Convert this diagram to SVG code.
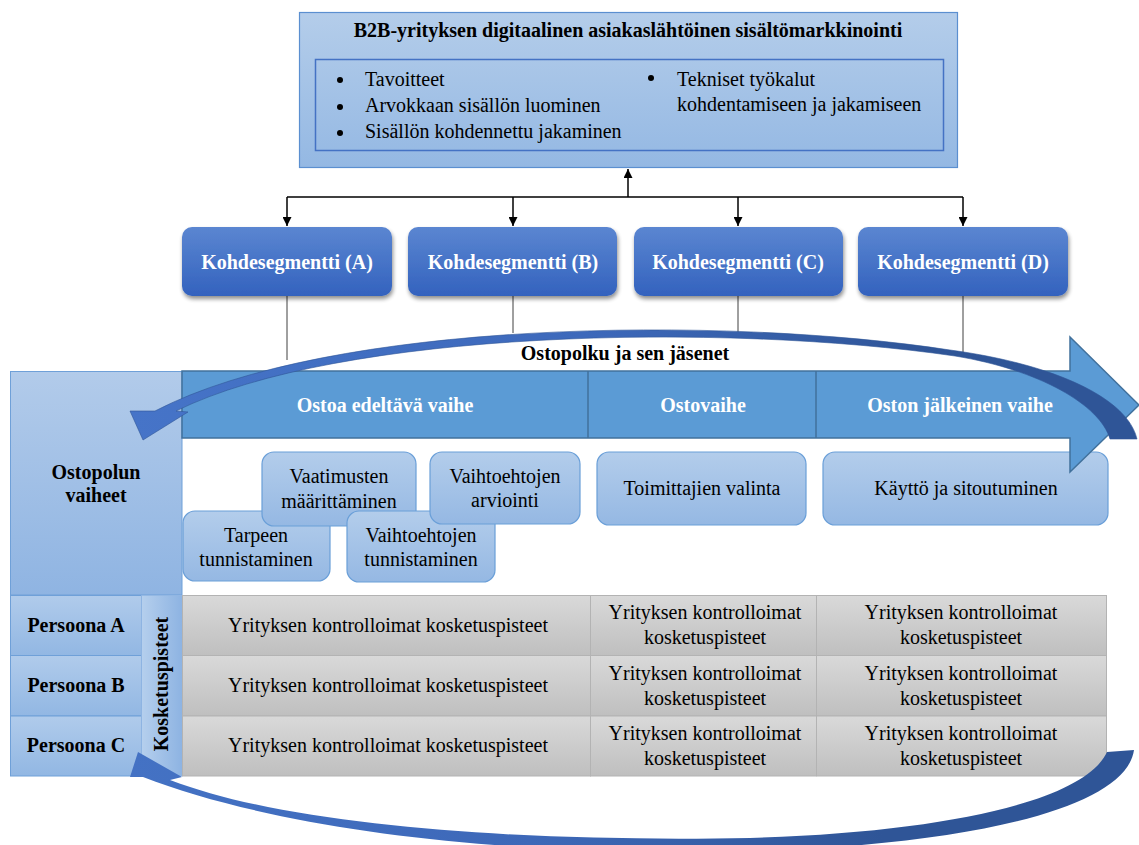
<svg xmlns="http://www.w3.org/2000/svg" width="1139" height="845" viewBox="0 0 1139 845">
  <style>
    text { fill: #000; font-family: "Liberation Serif", "Times New Roman", serif; font-size: 20px; }
    .b { font-weight: bold; }
    .c { text-anchor: middle; }
    .w { fill: #fff; }
    .conn { stroke: #000; stroke-width: 1.5; fill: none; }
    .drop { stroke: #404040; stroke-width: 1; fill: none; }
    .sub { fill: url(#subFill); stroke: #6a9fd8; stroke-width: 1.2; }
    .seg { fill: url(#segFill); filter: url(#shadow); }
    .grey { fill: url(#greyFill); stroke: #b3b3b3; stroke-width: 1; }
    .pers { fill: url(#persFill); stroke: #6fa0d8; stroke-width: 1; }
  </style>
  <defs>
    <linearGradient id="topFill" x1="0" y1="0" x2="0" y2="1">
      <stop offset="0" stop-color="#b4cdea"/>
      <stop offset="1" stop-color="#94b8e3"/>
    </linearGradient>
    <linearGradient id="segFill" x1="0" y1="0" x2="0" y2="1">
      <stop offset="0" stop-color="#5b86d1"/>
      <stop offset="1" stop-color="#3362be"/>
    </linearGradient>
    <linearGradient id="subFill" x1="0" y1="0" x2="0" y2="1">
      <stop offset="0" stop-color="#b3cdeb"/>
      <stop offset="1" stop-color="#95b8e3"/>
    </linearGradient>
    <linearGradient id="panelFill" x1="0" y1="0" x2="0" y2="1">
      <stop offset="0" stop-color="#b2cbea"/>
      <stop offset="1" stop-color="#8fb4e2"/>
    </linearGradient>
    <linearGradient id="persFill" x1="0" y1="0" x2="0" y2="1">
      <stop offset="0" stop-color="#b0cbeb"/>
      <stop offset="1" stop-color="#92b7e3"/>
    </linearGradient>
    <linearGradient id="colFill" x1="0" y1="0" x2="1" y2="0">
      <stop offset="0" stop-color="#b5cfed"/>
      <stop offset="1" stop-color="#8db3e2"/>
    </linearGradient>
    <linearGradient id="greyFill" x1="0" y1="0" x2="0" y2="1">
      <stop offset="0" stop-color="#d9d9d9"/>
      <stop offset="1" stop-color="#bfbfbf"/>
    </linearGradient>
    <linearGradient id="curveTop" gradientUnits="userSpaceOnUse" x1="130" y1="0" x2="1137" y2="0">
      <stop offset="0" stop-color="#4674c8"/>
      <stop offset="0.45" stop-color="#3d69bb"/>
      <stop offset="0.8" stop-color="#2f5597"/>
      <stop offset="1" stop-color="#2f5597"/>
    </linearGradient>
    <linearGradient id="curveBottom" gradientUnits="userSpaceOnUse" x1="130" y1="0" x2="1133" y2="0">
      <stop offset="0" stop-color="#4472c4"/>
      <stop offset="0.4" stop-color="#3d68b8"/>
      <stop offset="0.75" stop-color="#2f5597"/>
      <stop offset="1" stop-color="#2f5597"/>
    </linearGradient>
    <filter id="shadow" x="-10%" y="-20%" width="125%" height="150%">
      <feGaussianBlur in="SourceAlpha" stdDeviation="2"/>
      <feOffset dx="1" dy="3" result="o"/>
      <feComponentTransfer><feFuncA type="linear" slope="0.45"/></feComponentTransfer>
      <feMerge><feMergeNode/><feMergeNode in="SourceGraphic"/></feMerge>
    </filter>
    <marker id="arr" viewBox="0 0 10 10" refX="10" refY="5" markerWidth="6" markerHeight="6" orient="auto" markerUnits="strokeWidth">
      <path d="M0,0 L10,5 L0,10 Z" fill="#000"/>
    </marker>
  </defs>

  <rect width="1139" height="845" fill="#fff"/>

  <!-- main topic -->
  <g id="main-topic">
    <rect x="299.5" y="12.5" width="658" height="155" fill="url(#topFill)" stroke="#5b8fd0" stroke-width="1.2"/>
    <text class="b c" x="628" y="37">B2B-yrityksen digitaalinen asiakaslähtöinen sisältömarkkinointi</text>
    <rect x="315.5" y="59.5" width="628" height="91" fill="none" stroke="#4472c4" stroke-width="1.5"/>
    <circle cx="340" cy="80" r="3"/>
    <text x="365" y="86">Tavoitteet</text>
    <circle cx="340" cy="107" r="3"/>
    <text x="365" y="112">Arvokkaan sisällön luominen</text>
    <circle cx="340" cy="133" r="3"/>
    <text x="365" y="138">Sisällön kohdennettu jakaminen</text>
    <circle cx="651" cy="78" r="3"/>
    <text x="677" y="86">Tekniset työkalut</text>
    <text x="677" y="111">kohdentamiseen ja jakamiseen</text>
  </g>

  <!-- connectors -->
  <g id="connectors">
    <path class="conn" d="M628,197 V169" marker-end="url(#arr)"/>
    <path class="conn" d="M287,197 H963"/>
    <path class="conn" d="M287,197 V226" marker-end="url(#arr)"/>
    <path class="conn" d="M513,197 V226" marker-end="url(#arr)"/>
    <path class="conn" d="M738,197 V226" marker-end="url(#arr)"/>
    <path class="conn" d="M963,197 V226" marker-end="url(#arr)"/>
    <path class="drop" d="M287,296 V360"/>
    <path class="drop" d="M513,296 V333"/>
    <path class="drop" d="M738,296 V332"/>
    <path class="drop" d="M963,296 V354"/>
  </g>

  <!-- target segments -->
  <g id="segment-a">
    <rect class="seg" x="182" y="227" width="210" height="69" rx="10"/>
    <text class="b c w" x="287" y="269">Kohdesegmentti (A)</text>
  </g>
  <g id="segment-b">
    <rect class="seg" x="408" y="227" width="209" height="69" rx="10"/>
    <text class="b c w" x="513" y="269">Kohdesegmentti (B)</text>
  </g>
  <g id="segment-c">
    <rect class="seg" x="634" y="227" width="209" height="69" rx="10"/>
    <text class="b c w" x="738" y="269">Kohdesegmentti (C)</text>
  </g>
  <g id="segment-d">
    <rect class="seg" x="858" y="227" width="210" height="69" rx="10"/>
    <text class="b c w" x="963" y="269">Kohdesegmentti (D)</text>
  </g>

  <!-- left panel -->
  <g id="stages-label">
    <rect x="10.5" y="371.5" width="171.5" height="223.5" fill="url(#panelFill)" stroke="#6fa0d8" stroke-width="1"/>
    <text class="b c" x="96" y="479">Ostopolun</text>
    <text class="b c" x="96" y="502">vaiheet</text>
  </g>
  <g id="persona-a">
    <rect class="pers" x="10.5" y="595.5" width="131" height="60"/>
    <text class="b c" x="76" y="632">Persoona A</text>
  </g>
  <g id="persona-b">
    <rect class="pers" x="10.5" y="655.5" width="131" height="60.5"/>
    <text class="b c" x="76" y="692">Persoona B</text>
  </g>
  <g id="persona-c">
    <rect class="pers" x="10.5" y="716" width="131" height="60"/>
    <text class="b c" x="76" y="752">Persoona C</text>
  </g>
  <g id="touchpoints-label">
    <rect x="141.5" y="595.5" width="41" height="180.5" fill="url(#colFill)" stroke="#8db3e2" stroke-width="0.8"/>
    <text class="b c" transform="translate(168,684) rotate(-90)" x="0" y="0">Kosketuspisteet</text>
  </g>

  <!-- touchpoint grid -->
  <g id="touchpoints">
    <rect class="grey" x="182.5" y="595.5" width="408" height="60"/>
    <rect class="grey" x="182.5" y="655.5" width="408" height="60.5"/>
    <rect class="grey" x="182.5" y="716" width="408" height="60"/>
    <rect class="grey" x="590.5" y="595.5" width="226" height="60"/>
    <rect class="grey" x="590.5" y="655.5" width="226" height="60.5"/>
    <rect class="grey" x="590.5" y="716" width="226" height="60"/>
    <rect class="grey" x="816.5" y="595.5" width="290" height="60"/>
    <rect class="grey" x="816.5" y="655.5" width="290" height="60.5"/>
    <path class="grey" d="M816.5,716 H1106.5 V764 Q1106.5,776 1094.5,776 H816.5 Z"/>
    <text class="c" x="388" y="632">Yrityksen kontrolloimat kosketuspisteet</text>
    <text class="c" x="388" y="692">Yrityksen kontrolloimat kosketuspisteet</text>
    <text class="c" x="388" y="752">Yrityksen kontrolloimat kosketuspisteet</text>
    <text class="c" x="705" y="619">Yrityksen kontrolloimat</text>
    <text class="c" x="705" y="644">kosketuspisteet</text>
    <text class="c" x="705" y="680">Yrityksen kontrolloimat</text>
    <text class="c" x="705" y="705">kosketuspisteet</text>
    <text class="c" x="705" y="740">Yrityksen kontrolloimat</text>
    <text class="c" x="705" y="765">kosketuspisteet</text>
    <text class="c" x="961" y="619">Yrityksen kontrolloimat</text>
    <text class="c" x="961" y="644">kosketuspisteet</text>
    <text class="c" x="961" y="680">Yrityksen kontrolloimat</text>
    <text class="c" x="961" y="705">kosketuspisteet</text>
    <text class="c" x="961" y="740">Yrityksen kontrolloimat</text>
    <text class="c" x="961" y="765">kosketuspisteet</text>
  </g>

  <!-- lower return arrow -->
  <g id="return-arrow">
    <path fill="url(#curveBottom)" d="M130,777 L138,752 L182,777 L170,780 C300,830 550,842 750,838 C950,832 1085,800 1107,752 L1134,750 C1126,810 960,848 720,852 C500,855 280,830 143,777 Z"/>
  </g>

  <!-- purchase stage steps -->
  <g id="step-need">
    <rect class="sub" x="183" y="511" width="147" height="70" rx="12"/>
    <text class="c" x="256" y="542">Tarpeen</text>
    <text class="c" x="256" y="566">tunnistaminen</text>
  </g>
  <g id="step-requirements">
    <rect class="sub" x="262" y="452" width="154" height="74" rx="12"/>
    <text class="c" x="339" y="483">Vaatimusten</text>
    <text class="c" x="339" y="508">määrittäminen</text>
  </g>
  <g id="step-options">
    <rect class="sub" x="347" y="511" width="148" height="71" rx="12"/>
    <text class="c" x="421" y="542">Vaihtoehtojen</text>
    <text class="c" x="421" y="566">tunnistaminen</text>
  </g>
  <g id="step-evaluation">
    <rect class="sub" x="430" y="452" width="150" height="72" rx="12"/>
    <text class="c" x="505" y="483">Vaihtoehtojen</text>
    <text class="c" x="505" y="507">arviointi</text>
  </g>
  <g id="step-supplier">
    <rect class="sub" x="597" y="452" width="209" height="73" rx="12"/>
    <text class="c" x="702" y="495">Toimittajien valinta</text>
  </g>
  <g id="step-usage">
    <rect class="sub" x="823" y="452" width="285" height="73" rx="12"/>
    <text class="c" x="966" y="495">Käyttö ja sitoutuminen</text>
  </g>

  <!-- journey block arrow with phase headers -->
  <g id="journey-phases">
    <path d="M182,371 H1070 V337 L1139,405 L1070,472 V438 H182 Z" fill="#5b9bd5" stroke="#41719c" stroke-width="1.5"/>
    <path d="M588,371 V438 M816,371 V438" stroke="#41719c" stroke-width="1.5"/>
    <text class="b c w" x="385" y="412">Ostoa edeltävä vaihe</text>
    <text class="b c w" x="703" y="412">Ostovaihe</text>
    <text class="b c w" x="960" y="412">Oston jälkeinen vaihe</text>
  </g>

  <!-- upper curved arrow -->
  <g id="journey-arrow">
    <path fill="url(#curveTop)" stroke="#2f5597" stroke-width="0.6" d="M1110,439 L1137,439 C1128,400 1060,365 950,350 C720,315 330,320 155,411 L130,411 L143,440 L188,412 L176,411 C340,330 720,322 955,356 C1040,370 1100,405 1110,439 Z"/>
    <text class="b c" x="625" y="360">Ostopolku ja sen jäsenet</text>
  </g>
</svg>
